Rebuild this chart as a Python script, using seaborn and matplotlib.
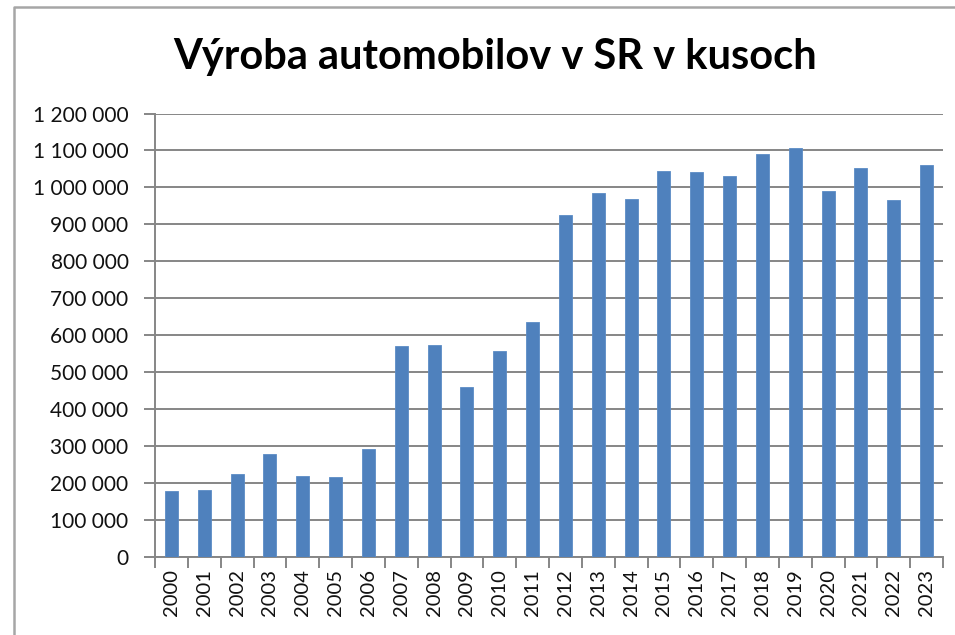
#Chart: car production in Slovakia (pieces), 2000-2023
import numpy as np
import pandas as pd
import matplotlib
matplotlib.use("Agg")
import matplotlib.pyplot as plt
from matplotlib.ticker import FuncFormatter, MultipleLocator, FixedLocator
from matplotlib.lines import Line2D
import seaborn as sns

#Values
years = [str(y) for y in range(2000, 2024)]
produced = [178000, 181000, 224000, 280000, 220000, 217000, 292000, 570000,
            573000, 459000, 558000, 637000, 925000, 986000, 970000, 1044000,
            1042000, 1032000, 1090000, 1107000, 990000, 1052000, 967000, 1061000]
title = "Výroba automobilov v SR v kusoch"

df = pd.DataFrame({"Rok": years, "Kusy": produced})

sns.set_style("white")
plt.rcParams['font.family'] = ['Lato', 'DejaVu Sans']

fig = plt.figure(figsize=(9.55, 6.35), dpi=100)
ax = fig.add_axes([155/955, 78/635, 788/955, 443.5/635])

sns.barplot(data=df, x="Rok", y="Kusy", color="#4F81BD", width=0.4,
            saturation=1, edgecolor="#5B8CC6", linewidth=0.6, ax=ax, zorder=3)

grey = "#868686"
ax.set_ylim(0, 1200000)
ax.set_xlim(-0.5, len(years) - 0.5)
ax.yaxis.set_major_locator(MultipleLocator(100000))
ax.yaxis.set_major_formatter(FuncFormatter(lambda v, p: f"{int(v):,}".replace(",", " ")))
ax.grid(axis="y", color=grey, linewidth=1.4, zorder=0)
ax.set_axisbelow(True)

#tick marks sit between the categories, like Excel
ax.xaxis.set_minor_locator(FixedLocator(np.arange(-0.5, len(years), 1)))
ax.tick_params(axis="x", which="major", length=0, pad=9, labelsize=14.5,
               labelrotation=90, labelcolor="#111111")
ax.tick_params(axis="x", which="minor", length=8, width=1.4, color=grey,
               direction="out", bottom=True)
ax.tick_params(axis="y", length=8, width=1.4, color=grey, direction="out",
               left=True, pad=11, labelsize=15, labelcolor="#111111")

for side in ["top", "right"]:
    ax.spines[side].set_visible(False)
for side in ["left", "bottom"]:
    ax.spines[side].set_color(grey)
    ax.spines[side].set_linewidth(1.4)

ax.set_xlabel("")
ax.set_ylabel("")

fig.text(495/955, 1 - 57/635, title, ha="center", va="center",
         fontsize=30, fontweight="bold", color="#000000")

#chart area frame (left and top edge are visible)
fx = 14/955
fy = 1 - 7/635
fig.add_artist(Line2D([fx, fx, 1.0], [0.0, fy, fy], transform=fig.transFigure,
                      color="#a6a6a6", linewidth=1.8))

fig.savefig("out.png", dpi=100)
